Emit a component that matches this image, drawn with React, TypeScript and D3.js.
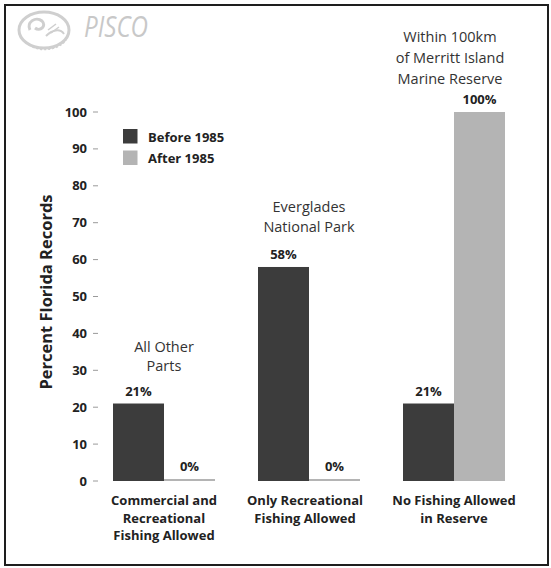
import React from "react";
import * as d3 from "d3";

const categories = [
  ["Commercial and", "Recreational", "Fishing Allowed"],
  ["Only Recreational", "Fishing Allowed"],
  ["No Fishing Allowed", "in Reserve"],
];
const regionNotes = [
  ["All Other", "Parts"],
  ["Everglades", "National Park"],
  ["Within 100km", "of Merritt Island", "Marine Reserve"],
];
const seriesNames = ["Before 1985", "After 1985"];
const before1985 = [21, 58, 21];
const after1985 = [0, 0, 100];
const yTicks = [0, 10, 20, 30, 40, 50, 60, 70, 80, 90, 100];

const W = 551;
const H = 568;
const FONT = "'Open Sans', 'DejaVu Sans', sans-serif";
const colors = ["#3c3c3c", "#b4b4b4"];

export default function App() {
  const y = d3.scaleLinear().domain([0, 100]).range([481, 112]);
  const x0 = d3
    .scaleBand<number>()
    .domain(d3.range(categories.length))
    .range([98.5, 519.5])
    .paddingInner(0.2966)
    .paddingOuter(0.1);
  const x1 = d3
    .scaleBand<number>()
    .domain([0, 1])
    .range([0, x0.bandwidth()]);
  const series = [before1985, after1985];

  // note block positions above each group, baseline of the first line
  const noteTop = [352, 212, 42];
  const noteLH = [18.5, 19.5, 21];
  const labelShift = [0, -4, 0];

  return (
    <svg
      width={W}
      height={H}
      style={{ position: "absolute", left: 0, top: 0, background: "#fff" }}
      fontFamily={FONT}
    >
      <rect x={0} y={0} width={W} height={H} fill="#fff" />
      <rect
        x={5}
        y={5}
        width={543}
        height={560}
        fill="none"
        stroke="#1e1e1e"
        strokeWidth={2}
      />

      {/* PISCO logo */}
      <g fill="none" stroke="#cfcfcf">
        <ellipse cx={44} cy={30} rx={25} ry={18} strokeWidth={3} />
        <path
          d="M30,30 C26,22 36,16 42,21 C47,26 40,32 35,28"
          strokeWidth={3}
        />
        <path d="M46,36 C52,30 60,28 64,34" strokeWidth={2} />
        <path d="M48,30 L56,24 M51,33 L59,27" strokeWidth={1.5} />
        <path
          d="M26,42 C36,52 56,52 66,40"
          strokeWidth={2}
          strokeDasharray="2 2"
        />
      </g>
      <text
        x={84}
        y={37}
        fontSize={29}
        fontStyle="italic"
        fill="#c8c8c8"
        textLength={64}
        lengthAdjust="spacingAndGlyphs"
      >
        PISCO
      </text>

      {/* y axis */}
      {yTicks.map((t) => (
        <g key={t}>
          <line
            x1={93}
            x2={98}
            y1={y(t)}
            y2={y(t)}
            stroke="#9a9a9a"
            strokeWidth={1}
          />
          <text
            x={87}
            y={y(t)}
            dy="0.35em"
            textAnchor="end"
            fontSize={13}
            fontWeight={700}
            fill="#222"
          >
            {t}
          </text>
        </g>
      ))}
      <text
        transform={`translate(52,292) rotate(-90)`}
        textAnchor="middle"
        fontSize={16.5}
        fontWeight={700}
        fill="#222"
      >
        Percent Florida Records
      </text>

      {/* bars */}
      {categories.map((_, i) => (
        <g key={i} transform={`translate(${x0(i)},0)`}>
          {series.map((s, k) => {
            const v = s[i];
            const bx = x1(k) as number;
            const bw = x1.bandwidth();
            return (
              <g key={k}>
                <line
                  x1={bx}
                  x2={bx + bw}
                  y1={y(0) - 1}
                  y2={y(0) - 1}
                  stroke={colors[k]}
                  strokeWidth={2}
                />
                <rect
                  x={bx}
                  y={y(v)}
                  width={bw}
                  height={y(0) - y(v)}
                  fill={colors[k]}
                />
                <text
                  x={bx + bw / 2}
                  y={y(v) - (v === 0 ? 10 : 8)}
                  textAnchor="middle"
                  fontSize={13}
                  fontWeight={700}
                  fill="#222"
                >
                  {v}%
                </text>
              </g>
            );
          })}
          {categories[i].map((line, j) => (
            <text
              key={j}
              x={x0.bandwidth() / 2 + labelShift[i]}
              y={505 + j * 17.5}
              textAnchor="middle"
              fontSize={13}
              fontWeight={700}
              fill="#222"
            >
              {line}
            </text>
          ))}
          {regionNotes[i].map((line, j) => (
            <text
              key={j}
              x={x0.bandwidth() / 2 - (i === 2 ? 4 : 0)}
              y={noteTop[i] + j * noteLH[i]}
              textAnchor="middle"
              fontSize={14.5}
              fill="#333"
            >
              {line}
            </text>
          ))}
        </g>
      ))}

      {/* legend */}
      {seriesNames.map((n, k) => (
        <g key={n} transform={`translate(123,${129 + k * 21.5})`}>
          <rect width={14.5} height={14.5} fill={colors[k]} />
          <text
            x={25}
            y={12.5}
            fontSize={13}
            fontWeight={700}
            fill="#222"
          >
            {n}
          </text>
        </g>
      ))}
    </svg>
  );
}
